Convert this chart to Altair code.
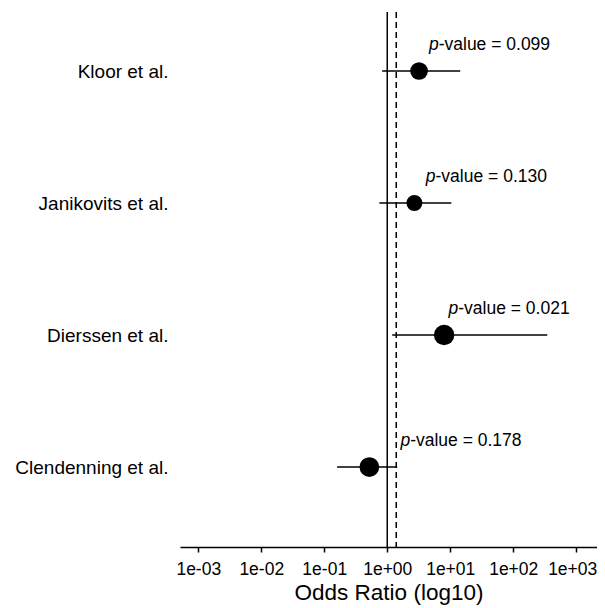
import altair as alt
import pandas as pd

studies = ["Kloor et al.", "Janikovits et al.", "Dierssen et al.", "Clendenning et al."]
row_pos = [4, 3, 2, 1]
odds_ratio = [3.2, 2.7, 8.0, 0.52]
ci_low = [0.83, 0.75, 1.2, 0.16]
ci_high = [14.4, 10.4, 347.0, 1.44]
marker_area = [314, 254, 415, 390]
p_text = ["-value = 0.099", "-value = 0.130", "-value = 0.021", "-value = 0.178"]
p_label_x = [4.6, 4.1, 9.4, 1.62]
ref_solid = [1.0]
ref_dashed = [1.39]
tick_values = [0.001, 0.01, 0.1, 1, 10, 100, 1000]

df = pd.DataFrame({
    "study": studies, "pos": row_pos, "or": odds_ratio, "lo": ci_low, "hi": ci_high,
    "size": marker_area, "ptxt": p_text, "px": p_label_x,
})

font = "Liberation Sans"
label_expr_y = "[''," + ",".join("'" + s + "'" for s in reversed(studies)) + "][datum.value]"

xscale = alt.Scale(type="log", domain=[10 ** -3.29, 10 ** 3.33], nice=False)
yscale = alt.Scale(domain=[0.394, 4.447], nice=False, zero=False)

xaxis = alt.Axis(
    values=tick_values,
    labelExpr="datum.value < 1 ? '1e-0' + round(-log(datum.value)/LN10) : '1e+0' + round(log(datum.value)/LN10)",
    title="Odds Ratio (log10)", grid=False, domainColor="black", tickColor="black",
    domainWidth=1.5, tickWidth=1.5, tickSize=5, labelFontSize=17.5, labelColor="black",
    labelFont=font, titleFont=font, titleFontSize=22.5, titleFontWeight="normal",
    titleColor="black", labelPadding=8, titlePadding=4, labelFlush=False,
    labelOffset={"condition": {"test": "datum.value >= 1000", "value": -4}, "value": 0},
)
yaxis = alt.Axis(
    values=[1, 2, 3, 4], labelExpr=label_expr_y, title=None, grid=False, domain=False,
    ticks=False, labelFontSize=19, labelColor="black", labelFont=font, labelPadding=12,
)

base = alt.Chart(df)

solid = alt.Chart(pd.DataFrame({"v": ref_solid})).mark_rule(color="black", strokeWidth=1.5).encode(
    x=alt.X("v:Q", scale=xscale, axis=xaxis)
)
dashed = alt.Chart(pd.DataFrame({"v": ref_dashed})).mark_rule(
    color="black", strokeWidth=1.5, strokeDash=[6, 4]
).encode(x=alt.X("v:Q", scale=xscale))

ci = base.mark_rule(color="black", strokeWidth=1.5).encode(
    x=alt.X("lo:Q", scale=xscale), x2="hi:Q", y=alt.Y("pos:Q", scale=yscale, axis=yaxis)
)
pts = base.mark_circle(color="black", opacity=1).encode(
    x=alt.X("or:Q", scale=xscale), y=alt.Y("pos:Q", scale=yscale),
    size=alt.Size("size:Q", scale=None, legend=None),
)
ptxt_italic = base.mark_text(
    text="p", align="left", baseline="middle", dy=-26, fontSize=17.5, fontStyle="italic",
    font=font, color="black",
).encode(x=alt.X("px:Q", scale=xscale), y=alt.Y("pos:Q", scale=yscale))
ptxt_rest = base.mark_text(
    align="left", baseline="middle", dy=-26, dx=9.7, fontSize=17.5, font=font, color="black",
).encode(x=alt.X("px:Q", scale=xscale), y=alt.Y("pos:Q", scale=yscale), text="ptxt:N")

chart = alt.layer(solid, dashed, ci, pts, ptxt_italic, ptxt_rest).properties(
    width=417, height=535,
    autosize=alt.AutoSizeParams(type="none"),
    padding={"left": 172, "top": 4, "right": 0, "bottom": 61},
    background="white",
).configure_view(stroke=None)

chart.save("out.html", embed_options={"renderer": "svg", "actions": False})
